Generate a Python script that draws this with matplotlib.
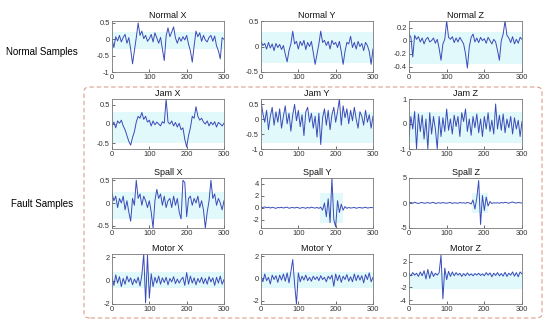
import numpy as np
import matplotlib.pyplot as plt
from matplotlib.patches import FancyBboxPatch

plt.rcParams['font.family'] = ['Liberation Sans', 'DejaVu Sans']

# samples every 5 points
x = np.arange(0, 301, 5)

normal_x = [0.00, -0.25, 0.08, -0.05, 0.12, -0.08, 0.06, 0.15, -0.12, 0.05,
            -0.30, -0.75, -0.35, 0.05, 0.50, 0.12, 0.25, 0.02, 0.12, -0.06,
            0.02, 0.15, -0.08, 0.20, 0.04, -0.12, 0.06, -0.30, -0.65, 0.10,
            0.35, 0.08, 0.22, 0.38, 0.04, -0.12, 0.06, -0.06, 0.08, -0.02,
            0.12, -0.15, -0.35, -0.70, -0.20, 0.25, 0.08, 0.20, -0.06, 0.12,
            -0.02, -0.08, 0.06, 0.12, -0.06, 0.10, -0.20, -0.35, -0.60, 0.05,
            0.00]
normal_y = [0.10, 0.02, 0.06, -0.05, 0.08, -0.03, 0.05, -0.08, 0.06, -0.02,
            0.04, -0.06, 0.02, -0.15, -0.30, -0.08, 0.05, 0.30, 0.05, 0.10,
            -0.05, 0.10, 0.02, 0.12, -0.06, 0.08, 0.00, 0.10, -0.12, -0.35,
            -0.15, 0.05, 0.30, 0.08, 0.12, 0.02, 0.10, -0.05, 0.12, 0.04,
            0.08, -0.02, 0.10, -0.10, -0.35, -0.10, 0.08, 0.05, 0.20, -0.02,
            0.08, -0.05, 0.10, 0.00, 0.06, -0.08, 0.08, 0.02, -0.10, -0.35,
            -0.05]
normal_z = [0.10, 0.05, -0.25, 0.08, 0.02, 0.06, -0.02, 0.04, -0.05, 0.02,
            0.05, -0.02, 0.00, 0.04, -0.04, 0.02, -0.12, -0.30, -0.05, 0.02,
            0.30, 0.05, 0.02, 0.06, -0.03, 0.04, -0.02, 0.05, 0.00, -0.05,
            -0.20, -0.42, -0.10, 0.05, 0.10, -0.02, 0.04, -0.03, 0.05, 0.00,
            0.03, -0.04, 0.05, 0.00, -0.05, 0.02, -0.02, -0.15, -0.30, 0.00,
            0.10, 0.30, 0.08, 0.04, -0.03, 0.06, -0.05, 0.02, -0.04, 0.05,
            0.02]

jam_x = [-0.05, 0.05, -0.10, 0.08, 0.02, 0.10, -0.05, -0.15, -0.30, -0.45,
         -0.55, -0.35, -0.20, 0.05, 0.20, 0.15, 0.30, 0.12, 0.20, 0.05,
         0.10, -0.05, 0.08, -0.02, 0.05, 0.00, -0.05, 0.06, 0.02, 0.65,
         0.05, 0.00, 0.08, -0.05, 0.04, -0.08, 0.02, -0.15, -0.10, -0.40,
         -0.60, -0.30, -0.10, 0.20, 0.15, 0.45, 0.20, 0.10, 0.15, 0.05,
         0.00, 0.08, -0.05, 0.05, -0.02, 0.06, -0.08, 0.04, 0.00, -0.05,
         0.02]
jam_y = [0.60, 0.20, -0.10, 0.30, -0.35, 0.10, 0.40, -0.20, 0.25, -0.10,
         0.35, -0.30, 0.10, 0.45, -0.15, 0.20, -0.40, 0.15, 0.50, -0.05,
         0.30, -0.25, 0.15, -0.55, 0.25, 0.40, -0.10, 0.20, -0.30, 0.10,
         -0.60, 0.20, -0.85, 0.05, 0.35, -0.20, 0.30, -0.35, 0.15, 0.40,
         -0.10, 0.25, 0.68, -0.20, 0.45, 0.05, 0.35, -0.15, 0.30, -0.05,
         0.40, 0.00, -0.30, 0.25, 0.10, -0.20, 0.30, -0.10, 0.15, -0.30,
         0.10]
jam_z = [-0.50, 0.30, -0.20, 0.50, -1.00, 0.40, -0.30, 0.35, -0.60, 0.20,
         -1.00, 0.45, -0.40, 0.30, -0.20, -1.00, 0.30, -0.50, 0.25, -0.30,
         0.60, -0.25, 0.20, -0.40, 0.35, -0.10, 0.30, -0.50, 0.45, 0.10,
         0.60, -0.30, 0.20, -0.45, 0.30, -0.15, 0.40, -0.35, 0.20, -0.50,
         0.30, -0.20, 0.45, -0.30, 0.15, -0.40, 0.80, -0.20, 0.35, -0.25,
         0.40, -0.35, 0.20, -0.15, 0.30, -0.40, 0.25, -0.20, 0.15, -0.50,
         0.10]

spall_x = [0.20, 0.05, 0.15, -0.10, 0.10, 0.00, 0.15, -0.15, 0.05, -0.20,
           -0.40, 0.10, -0.05, 0.50, 0.10, 0.20, -0.05, 0.15, 0.05, -0.10,
           0.05, -0.20, -0.55, 0.05, 0.30, 0.10, 0.20, -0.05, 0.15, -0.10,
           0.05, 0.10, -0.10, 0.15, -0.05, 0.10, -0.20, -0.35, 0.50, 0.45,
           -0.30, 0.10, 0.15, -0.05, 0.10, 0.00, 0.15, -0.10, 0.05, -0.15,
           -0.55, -0.20, 0.05, 0.50, 0.10, 0.20, -0.05, 0.10, 0.00, -0.15,
           0.05]
spall_y = [0.10, 0.05, 0.15, 0.00, 0.10, -0.05, 0.08, 0.00, -0.10, 0.05,
           0.00, 0.08, -0.05, 0.05, 0.10, -0.08, 0.00, 0.05, -0.05, 0.08,
           0.00, -0.10, 0.05, 0.00, -0.08, 0.05, -0.05, 0.10, 0.00, -0.05,
           0.05, -0.10, 0.10, -0.40, 0.80, -1.50, 1.50, -2.50, 5.00, -2.00,
           -3.20, 1.20, -0.80, 0.60, -0.40, 0.20, -0.10, 0.05, -0.05, 0.00,
           0.05, -0.08, 0.00, 0.05, -0.05, 0.00, 0.10, -0.05, 0.00, 0.05,
           0.00]
spall_z = [0.00, 0.10, -0.05, 0.15, 0.00, -0.10, 0.05, 0.10, -0.05, 0.00,
           0.10, -0.05, 0.05, 0.15, -0.10, 0.00, 0.05, -0.05, 0.10, 0.00,
           -0.05, 0.05, 0.10, -0.10, 0.05, 0.00, -0.05, 0.10, 0.00, 0.05,
           -0.05, 0.10, 0.00, -0.20, 0.60, -1.20, 1.00, 4.50, -4.30, 1.50,
           -1.50, 1.20, -0.60, 0.30, -0.10, 0.05, 0.00, 0.05, -0.05, 0.10,
           0.00, 0.15, 0.05, -0.05, 0.10, 0.20, 0.05, 0.00, 0.10, 0.05,
           0.00]

motor_x = [0.30, -0.40, 0.50, -0.20, 0.35, -0.50, 0.20, -0.30, 0.40, -0.10,
           0.25, -0.35, 0.15, -0.20, 0.30, -0.45, 0.50, 2.30, -1.90, 2.20,
           -1.50, 0.60, -0.50, 0.30, -0.20, 0.40, -0.30, 0.25, -0.15, 0.30,
           -0.35, 0.20, -0.10, 0.35, -0.25, 0.15, -0.20, 0.10, 0.30, -0.40,
           0.70, -0.30, 0.40, -0.20, 0.25, -0.35, 0.20, -0.15, 0.30, -0.25,
           0.20, -0.30, 0.35, -0.10, 0.25, -0.40, 0.30, -0.20, 0.40, -0.30,
           0.10]
motor_y = [0.20, -0.30, 0.40, -0.20, 0.10, -0.50, 0.30, -0.10, 0.25, -0.35,
           0.30, -0.15, 0.40, -0.25, 0.50, -0.40, 0.60, 1.70, -0.50, -2.30,
           0.50, -0.30, 0.20, -0.15, 0.30, -0.20, 0.10, -0.25, 0.20, -0.10,
           0.15, -0.20, 0.25, -0.10, 0.10, -0.30, 0.20, -0.05, 0.30, -0.70,
           0.40, -0.20, 0.30, -0.35, 0.20, -0.10, 0.35, -0.25, 0.15, -0.30,
           0.40, -0.20, 0.30, -0.15, 0.25, -0.40, 0.35, -0.10, 0.50, -0.30,
           0.10]
motor_z = [0.10, -0.20, 0.30, -0.10, 0.20, -0.30, 0.40, -0.20, 0.60, -0.70,
           0.80, -0.60, 0.50, -0.30, 0.20, -0.10, 0.30, 3.00, -3.80, 1.00,
           -0.80, 0.50, -0.30, 0.40, -0.20, 0.30, -0.10, 0.20, -0.30, 0.15,
           -0.20, 0.25, -0.15, 0.10, -0.20, 0.15, -0.10, 0.20, -0.15, 0.10,
           -0.20, 0.30, -0.10, 0.25, -0.35, 0.20, -0.15, 0.30, -0.20, 0.15,
           -0.25, 0.35, -0.30, 0.20, -0.10, 0.40, -0.25, 0.30, -0.35, 0.40,
           0.10]

titles = [["Normal X", "Normal Y", "Normal Z"],
          ["Jam X", "Jam Y", "Jam Z"],
          ["Spall X", "Spall Y", "Spall Z"],
          ["Motor X", "Motor Y", "Motor Z"]]
signals = [[normal_x, normal_y, normal_z],
           [jam_x, jam_y, jam_z],
           [spall_x, spall_y, spall_z],
           [motor_x, motor_y, motor_z]]
ylims = [[(-1, 0.56), (-0.5, 0.5), (-0.48, 0.3)],
         [(-0.65, 0.65), (-1, 0.68), (-1, 1)],
         [(-0.55, 0.55), (-3.4, 5), (-5, 5)],
         [(-2, 2.3), (-2.3, 2.2), (-4.6, 3.2)]]
yticks = [[[-1, -0.5, 0, 0.5], [-0.5, 0, 0.5], [-0.4, -0.2, 0, 0.2]],
          [[-0.5, 0, 0.5], [-1, -0.5, 0, 0.5], [-1, 0, 1]],
          [[-0.5, 0, 0.5], [-2, 0, 2, 4], [-5, 0, 5]],
          [[-2, 0, 2], [-2, 0, 2], [-4, -2, 0, 2]]]
# faint cyan zones behind the traces: (x0, x1, low, high)
bands = [[(0, 300, -0.3, 0.22), (0, 300, -0.33, 0.28), (0, 300, -0.36, 0.13)],
         [(0, 300, -0.49, 0.31), (0, 300, -0.8, 0.24), (0, 300, -0.76, 0.48)],
         [(0, 300, -0.35, 0.25), (158, 220, -2.5, 2.5), (167, 210, -2, 2)],
         [(0, 300, -0.63, 0.75), (0, 300, -0.86, 0.58), (0, 300, -2.2, 0.2)]]

W, H = 550, 326
fig = plt.figure(figsize=(5.5, 3.26), dpi=100)

col_px = [(112, 224), (261, 373), (409, 522)]
row_px = [(21, 72), (99, 149), (178, 228), (254, 304)]

for r in range(4):
    for c in range(3):
        l, rr = col_px[c]
        t, b = row_px[r]
        ax = fig.add_axes([l / W, 1 - b / H, (rr - l) / W, (b - t) / H])
        x0, x1, lo, hi = bands[r][c]
        ax.fill_between([x0, x1], lo, hi, color='#e2f9fb', lw=0, zorder=0)
        ax.plot(x, signals[r][c], color='#3a4cb8', lw=0.7, zorder=2)
        ax.set_xlim(0, 300)
        ax.set_ylim(*ylims[r][c])
        ax.set_xticks([0, 100, 200, 300])
        ax.set_yticks(yticks[r][c])
        ax.set_yticklabels([f"{v:g}" for v in yticks[r][c]])
        ax.tick_params(direction='in', length=2, width=0.5, labelsize=5.4,
                       pad=1.5, colors='#333333')
        for s in ax.spines.values():
            s.set_color('#777777')
            s.set_linewidth(0.6)
        ax.set_title(titles[r][c], fontsize=6.5, pad=2, color='#111111')

fig.text(42 / W, 1 - 52 / H, "Normal Samples", ha='center', va='center',
         fontsize=7)
fig.text(42 / W, 1 - 204 / H, "Fault Samples", ha='center', va='center',
         fontsize=7)

box = FancyBboxPatch((84 / W, 1 - 318 / H), (542 - 84) / W, (318 - 87) / H,
                     boxstyle='round,pad=0,rounding_size=0.012',
                     transform=fig.transFigure, fill=False,
                     ec='#dba08c', ls=(0, (4, 2.5)), lw=0.8)
fig.patches.append(box)

fig.savefig('out.png', dpi=100)
